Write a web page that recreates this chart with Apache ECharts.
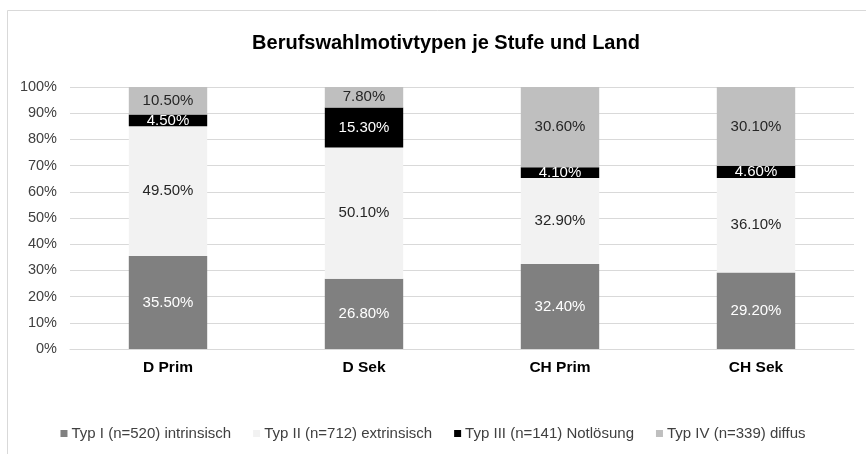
<!DOCTYPE html>
<html><head><meta charset="utf-8">
<script src="https://cdn.jsdelivr.net/npm/echarts@6/dist/echarts.min.js"></script>
<style>html,body{margin:0;padding:0;background:#fff}#c{width:866px;height:454px}</style>
</head><body><div id="c"></div>
<script>
const categories = ['D Prim', 'D Sek', 'CH Prim', 'CH Sek'];
const seriesNames = ['Typ I (n=520) intrinsisch', 'Typ II (n=712) extrinsisch', 'Typ III (n=141) Notlösung', 'Typ IV (n=339) diffus'];
const typ1 = [35.5, 26.8, 32.4, 29.2];
const typ2 = [49.5, 50.1, 32.9, 36.1];
const typ3 = [4.5, 15.3, 4.1, 4.6];
const typ4 = [10.5, 7.8, 30.6, 30.1];
const yTicks = [0, 10, 20, 30, 40, 50, 60, 70, 80, 90, 100];

const colors = ['#808080', '#f2f2f2', '#000000', '#bfbfbf'];
const labelColors = ['#ffffff', '#262626', '#ffffff', '#262626'];
const values = [typ1, typ2, typ3, typ4];
const font = '"Liberation Sans", Arial, sans-serif';

const chart = echarts.init(document.getElementById('c'), null, {renderer: 'canvas'});
chart.setOption({
  animation: false,
  backgroundColor: '#fff',
  graphic: [{type: 'rect', shape: {x: 7.5, y: 10.5, width: 880, height: 470}, style: {fill: 'none', stroke: '#d9d9d9', lineWidth: 1}, z: -1}],
  title: {text: 'Berufswahlmotivtypen je Stufe und Land', left: 441, textAlign: 'center', top: 28,
    textStyle: {fontFamily: font, fontSize: 20, fontWeight: 'bold', color: '#000'}},
  grid: {left: 70, right: 12, top: 87, bottom: 105, containLabel: false},
  legend: {top: 421, left: 'center', itemWidth: 7, itemHeight: 7, itemGap: 22, icon: 'rect',
    textStyle: {fontFamily: font, fontSize: 15, color: '#404040', padding: [0, 0, 0, -1]},
    data: seriesNames},
  xAxis: {type: 'category', data: categories,
    axisLine: {lineStyle: {color: '#d9d9d9'}}, axisTick: {show: false},
    axisLabel: {fontFamily: font, fontSize: 15.5, fontWeight: 'bold', color: '#000', margin: 11}},
  yAxis: {type: 'value', min: yTicks[0], max: yTicks[yTicks.length - 1], interval: 10,
    axisLine: {show: false}, axisTick: {show: false},
    splitLine: {lineStyle: {color: '#d9d9d9'}},
    axisLabel: {fontFamily: font, fontSize: 14.5, color: '#404040', margin: 13, formatter: '{value}%'}},
  series: values.map((v, i) => ({
    name: seriesNames[i], type: 'bar', stack: 'total', data: v, barWidth: '40%',
    itemStyle: {color: colors[i]},
    label: {show: true, position: 'inside', fontFamily: font, fontSize: 15, color: labelColors[i],
      formatter: p => p.value.toFixed(2) + '%'}
  }))
});
</script></body></html>
